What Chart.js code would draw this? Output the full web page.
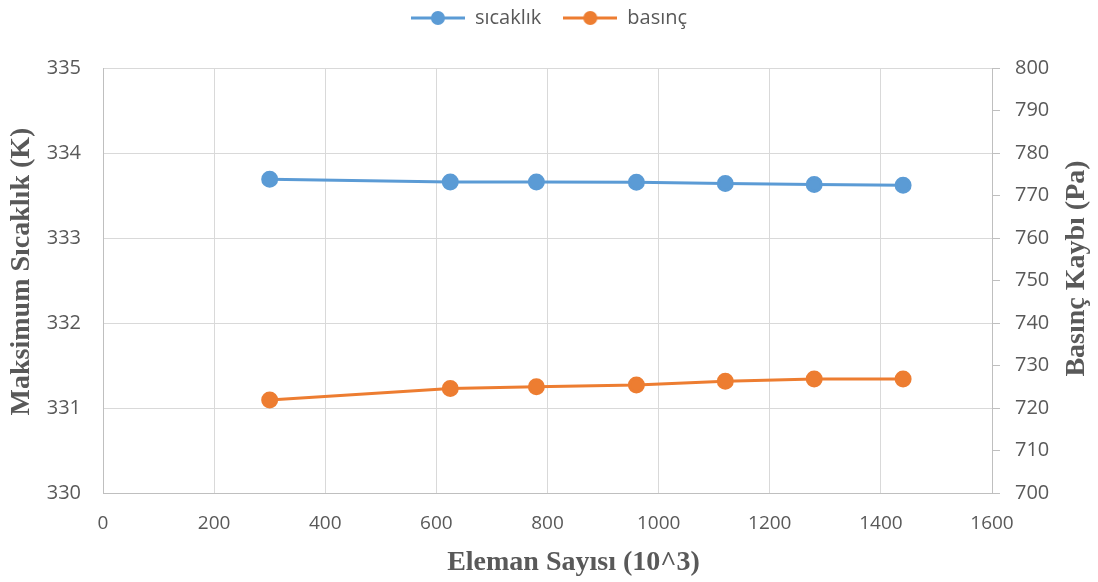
<!DOCTYPE html>
<html>
<head>
<meta charset="utf-8">
<script src="https://cdn.jsdelivr.net/npm/chart.js@4"></script>
<style>
  html, body { margin: 0; padding: 0; background: #fff; }
  #wrap { width: 1098px; height: 582px; }
</style>
</head>
<body>
<div id="wrap"><canvas id="chart"></canvas></div>
<script>
const elemanSayisi = [300, 625, 780, 960, 1120, 1280, 1440];
const sicaklik = [333.69, 333.66, 333.66, 333.655, 333.64, 333.63, 333.62];
const basinc = [721.9, 724.6, 725.0, 725.4, 726.3, 726.8, 726.8];

const xTitle = 'Eleman Sayısı (10^3)';
const yTitle = 'Maksimum Sıcaklık (K)';
const y1Title = 'Basınç Kaybı (Pa)';

const blue = '#5b9bd5';
const orange = '#ed7d31';
const textGray = '#595959';
const gridGray = '#d9d9d9';
const axisGray = '#bfbfbf';
const yTickFont = { family: 'Open Sans', size: 20 };
const xTickFont = { family: 'Open Sans', size: 19 };

// legend marker: short line with a dot in the middle
function legendMarker(color) {
    const c = document.createElement('canvas');
    c.width = 54;
    c.height = 16;
    const g = c.getContext('2d');
    g.strokeStyle = color;
    g.lineWidth = 3;
    g.beginPath();
    g.moveTo(0, 8);
    g.lineTo(54, 8);
    g.stroke();
    g.fillStyle = color;
    g.beginPath();
    g.arc(27, 8, 7, 0, Math.PI * 2);
    g.fill();
    return c;
}

// extra room under the legend so the plot starts lower
const legendSpace = {
    id: 'legendSpace',
    beforeLayout(chart) {
        const lg = chart.legend;
        if (lg && !lg._patched) {
            const fit = lg.fit;
            lg.fit = function () {
                fit.call(this);
                this.height += 30;
            };
            lg._patched = true;
        }
    }
};

// axis titles, drawn by hand so both vertical ones read bottom-to-top
const axisTitles = {
    id: 'axisTitles',
    afterDraw(chart) {
        const a = chart.chartArea;
        const c = chart.ctx;
        const midY = (a.top + a.bottom) / 2;
        c.save();
        c.fillStyle = textGray;
        c.font = 'bold 28px "Liberation Serif"';
        c.textAlign = 'center';
        c.textBaseline = 'middle';

        c.fillText(xTitle, (a.left + a.right) / 2 + 26, chart.height - 19);

        c.save();
        c.translate(chart.scales.y.left + 22, midY - 9);
        c.rotate(-Math.PI / 2);
        c.fillText(yTitle, 0, 0);
        c.restore();

        c.save();
        c.translate(chart.scales.y1.right - 21, midY - 12);
        c.rotate(-Math.PI / 2);
        c.fillText(y1Title, 0, 0);
        c.restore();

        c.restore();
    }
};

const ctx = document.getElementById('chart').getContext('2d');

new Chart(ctx, {
    type: 'line',
    data: {
        datasets: [{
            label: 'sıcaklık',
            data: elemanSayisi.map((x, i) => ({ x: x, y: sicaklik[i] })),
            borderColor: blue,
            backgroundColor: blue,
            borderWidth: 3,
            pointRadius: 7,
            pointHoverRadius: 7,
            yAxisID: 'y'
        }, {
            label: 'basınç',
            data: elemanSayisi.map((x, i) => ({ x: x, y: basinc[i] })),
            borderColor: orange,
            backgroundColor: orange,
            borderWidth: 3,
            pointRadius: 7,
            pointHoverRadius: 7,
            yAxisID: 'y1'
        }]
    },
    plugins: [legendSpace, axisTitles],
    options: {
        responsive: true,
        maintainAspectRatio: false,
        animation: false,
        layout: { padding: { top: -14, left: 0, right: 0, bottom: 0 } },
        plugins: {
            tooltip: { enabled: false },
            legend: {
                position: 'top',
                labels: {
                    color: textGray,
                    font: { family: 'Open Sans', size: 20 },
                    usePointStyle: true,
                    pointStyleWidth: 54,
                    padding: 22,
                    generateLabels: chart => chart.data.datasets.map((ds, i) => ({
                        text: ds.label,
                        pointStyle: legendMarker(ds.borderColor),
                        fontColor: textGray,
                        datasetIndex: i,
                        hidden: false
                    }))
                }
            }
        },
        scales: {
            x: {
                type: 'linear',
                min: 0,
                max: 1600,
                ticks: {
                    stepSize: 200,
                    color: textGray,
                    font: xTickFont,
                    padding: 19,
                    callback: v => String(v)
                },
                grid: { color: gridGray, lineWidth: 1, drawTicks: false },
                border: { color: axisGray },
                afterFit: axis => { axis.height = 89; }
            },
            y: {
                position: 'left',
                min: 330,
                max: 335,
                ticks: {
                    stepSize: 1,
                    color: textGray,
                    font: yTickFont,
                    padding: 22
                },
                grid: { color: gridGray, lineWidth: 1, drawTicks: false },
                border: { color: axisGray },
                afterFit: axis => { axis.width = 103; }
            },
            y1: {
                position: 'right',
                min: 700,
                max: 800,
                ticks: {
                    stepSize: 10,
                    color: textGray,
                    font: yTickFont,
                    padding: 15
                },
                grid: { drawOnChartArea: false, color: axisGray, tickLength: 8 },
                border: { color: axisGray },
                afterFit: axis => { axis.width = 106; }
            }
        }
    }
});
</script>
</body>
</html>
